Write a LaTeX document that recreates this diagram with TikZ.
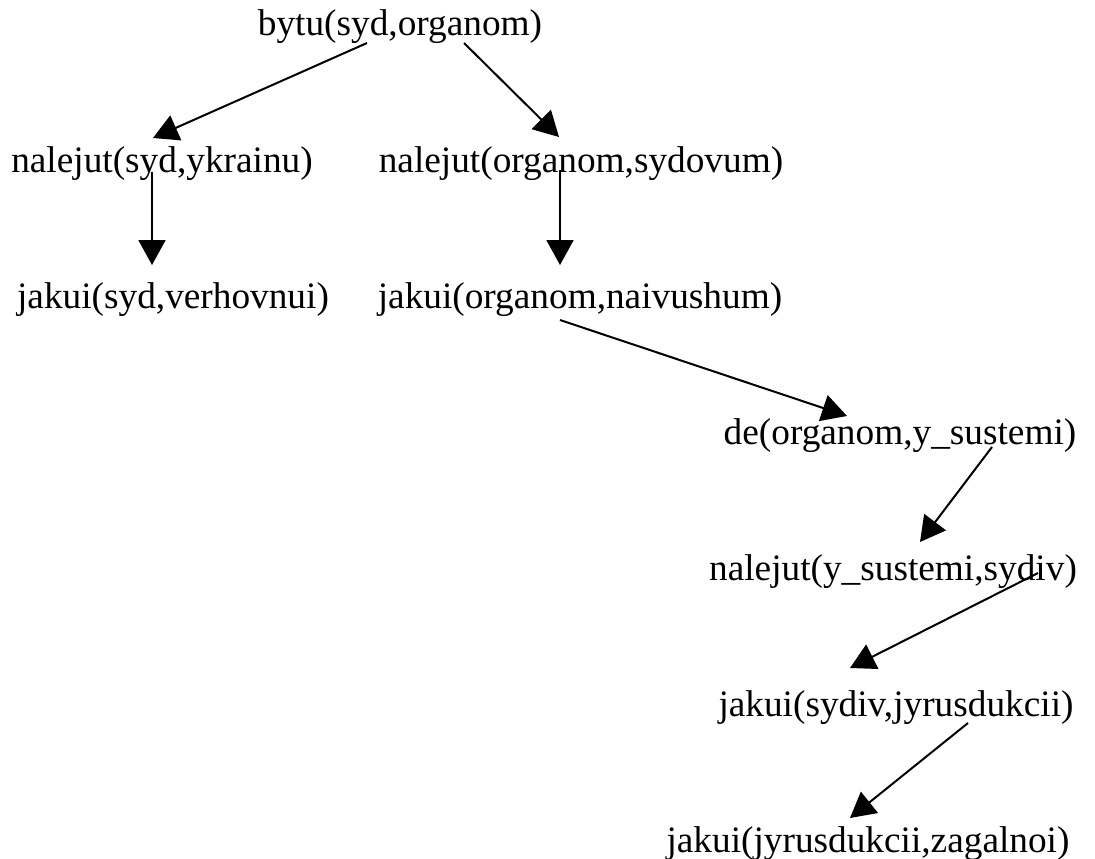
\documentclass[tikz,border=0pt]{standalone}
\usepackage{fontspec}
\setmainfont{Liberation Serif}
\usetikzlibrary{calc}
\usetikzlibrary{arrows.meta}
\tikzset{
  term/.style= {inner sep=0, anchor=base, font=\fontsize{37.3}{44}\selectfont},
  edge/.style= {line width=2pt, -{Triangle[length=25pt, width=27pt]}},
}

\begin{document}
\begin{tikzpicture}[x=1pt, y=-1pt]
  \useasboundingbox (0,0) rectangle (1095,859);
  \node [term] (a) at (400,36) {bytu(syd,organom)} ;
  \node [term] (b) at (162,172) {nalejut(syd,ykrainu)} ;
  \node [term] (c) at (581,172) {nalejut(organom,sydovum)} ;
  \node [term] (d) at (173,308) {jakui(syd,verhovnui)} ;
  \node [term] (e) at (580,308) {jakui(organom,naivushum)} ;
  \node [term] (f) at (900,444) {de(organom,y\_sustemi)} ;
  \node [term] (g) at (893,580) {nalejut(y\_sustemi,sydiv)} ;
  \node [term] (h) at (896,716) {jakui(sydiv,jyrusdukcii)} ;
  \node [term] (i) at (868,852) {jakui(jyrusdukcii,zagalnoi)} ;

  \draw [edge] ($(a.base)+(-33,7)$) -- ($(b.base)+(-9,-34)$) ;
  \draw [edge] ($(a.base)+(64,7)$) -- ($(c.base)+(-22,-35)$) ;
  \draw [edge] ($(b.base)+(-10,0)$) -- ($(d.base)+(-21,-43)$) ;
  \draw [edge] ($(c.base)+(-21,-2)$) -- ($(e.base)+(-20,-43)$) ;
  \draw [edge] ($(e.base)+(-20,12)$) -- ($(f.base)+(-53,-28)$) ;
  \draw [edge] ($(f.base)+(92,3)$) -- ($(g.base)+(27,-38)$) ;
  \draw [edge] ($(g.base)+(145,-7)$) -- ($(h.base)+(-46,-48)$) ;
  \draw [edge] ($(h.base)+(72,7)$) -- ($(i.base)+(-18,-34)$) ;
\end{tikzpicture}
\end{document}
